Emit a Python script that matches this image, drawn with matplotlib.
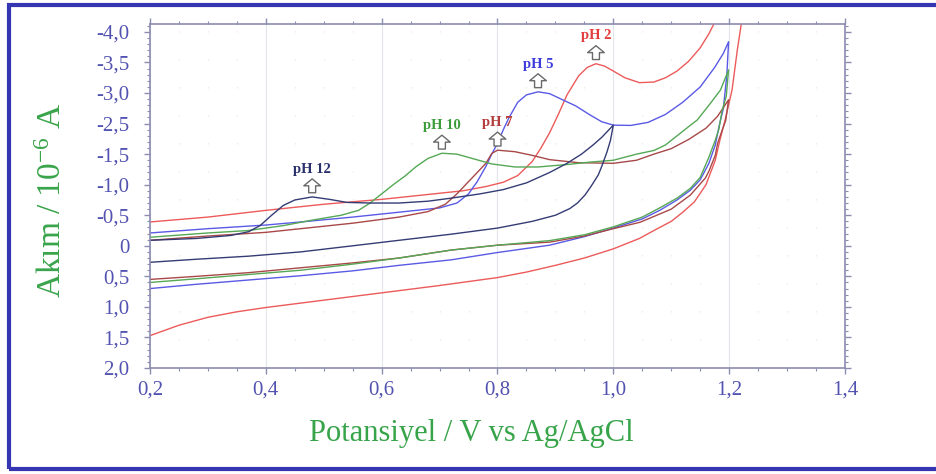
import numpy as np
import matplotlib.pyplot as plt
from matplotlib.patches import Rectangle
from matplotlib.ticker import FixedLocator, MultipleLocator
from matplotlib.transforms import offset_copy

plt.rcParams['mathtext.fontset'] = 'custom'
plt.rcParams['mathtext.rm'] = 'Liberation Serif'
plt.rcParams['mathtext.it'] = 'Liberation Serif:italic'

# current axis: labels are spaced evenly, values are not (-2,0 is skipped)
Y_TICKS = [-4.0, -3.5, -3.0, -2.5, -1.5, -1.0, -0.5, 0.0, 0.5, 1.0, 1.5, 2.0]
Y_TICK_LABELS = ['-4,0', '-3,5', '-3,0', '-2,5', '-1,5', '-1,0', '-0,5', '0',
                 '0,5', '1,0', '1,5', '2,0']
X_TICKS = [0.2, 0.4, 0.6, 0.8, 1.0, 1.2, 1.4]
X_TICK_LABELS = ['0,2', '0,4', '0,6', '0,8', '1,0', '1,2', '1,4']

# cyclic voltammograms, E in V, I in 10^-6 A (forward scan then reverse scan)
e_ph2 = [0.20, 0.30, 0.40, 0.50, 0.60, 0.68, 0.74, 0.78, 0.81, 0.835, 0.86, 0.875,
         0.89, 0.905, 0.92, 0.94, 0.955, 0.97, 0.985, 1.00, 1.02, 1.045, 1.07, 1.09,
         1.11, 1.13, 1.15, 1.165, 1.18, 1.20,
         1.222, 1.214, 1.205, 1.193, 1.184, 1.176, 1.16, 1.14, 1.12, 1.10, 1.07,
         1.045, 1.00, 0.95, 0.90, 0.85, 0.80, 0.70, 0.60, 0.50, 0.40, 0.35, 0.30,
         0.25, 0.20]
i_ph2 = [-0.39, -0.47, -0.58, -0.68, -0.76, -0.84, -0.90, -0.97, -1.04, -1.15, -1.38,
         -1.70, -2.20, -2.65, -2.97, -3.28, -3.42, -3.48, -3.44, -3.36, -3.25, -3.17,
         -3.18, -3.25, -3.36, -3.52, -3.74, -3.97, -4.25, -4.90,
         -4.20, -3.70, -3.05, -2.56, -1.96, -1.40, -1.00, -0.72, -0.55, -0.40, -0.25,
         -0.12, 0.05, 0.20, 0.32, 0.43, 0.52, 0.65, 0.77, 0.89, 1.01, 1.08, 1.17,
         1.30, 1.47]

e_ph5 = [0.20, 0.30, 0.40, 0.46, 0.55, 0.63, 0.70, 0.73, 0.75, 0.765, 0.78, 0.79,
         0.80, 0.81, 0.82, 0.835, 0.85, 0.87, 0.89, 0.91, 0.935, 0.96, 0.98, 1.00,
         1.03, 1.06, 1.09, 1.12, 1.15, 1.175, 1.19, 1.199,
         1.196, 1.19, 1.183, 1.176, 1.165, 1.15, 1.133, 1.11, 1.08, 1.05, 1.00, 0.95,
         0.89, 0.80, 0.72, 0.63, 0.55, 0.46, 0.37, 0.28, 0.20]
i_ph5 = [-0.21, -0.28, -0.34, -0.39, -0.47, -0.55, -0.62, -0.70, -0.85, -1.05, -1.30,
         -1.50, -1.85, -2.30, -2.60, -2.85, -2.97, -3.02, -2.99, -2.90, -2.79, -2.64,
         -2.53, -2.45, -2.44, -2.52, -2.65, -2.85, -3.10, -3.42, -3.65, -3.84,
         -3.30, -2.75, -2.45, -1.80, -1.35, -1.08, -0.91, -0.75, -0.58, -0.44, -0.29,
         -0.15, -0.01, 0.11, 0.23, 0.32, 0.41, 0.49, 0.56, 0.63, 0.70]

e_ph7 = [0.20, 0.30, 0.40, 0.46, 0.55, 0.63, 0.68, 0.71, 0.73, 0.75, 0.765, 0.78,
         0.79, 0.80, 0.83, 0.86, 0.89, 0.94, 1.00, 1.04, 1.07, 1.10, 1.13, 1.16, 1.18,
         1.199,
         1.194, 1.188, 1.18, 1.176, 1.165, 1.159, 1.133, 1.10, 1.07, 1.046, 1.00,
         0.95, 0.89, 0.80, 0.72, 0.63, 0.55, 0.46, 0.37, 0.28, 0.20]
i_ph7 = [-0.09, -0.16, -0.22, -0.28, -0.37, -0.47, -0.56, -0.68, -0.85, -1.05, -1.20,
         -1.35, -1.52, -1.63, -1.58, -1.48, -1.41, -1.36, -1.35, -1.40, -1.50, -1.68,
         -1.98, -2.35, -2.62, -2.89,
         -2.55, -2.29, -1.85, -1.48, -1.22, -1.11, -0.83, -0.60, -0.48, -0.385, -0.28,
         -0.16, -0.06, -0.01, 0.07, 0.20, 0.28, 0.36, 0.44, 0.50, 0.55]

e_ph10 = [0.20, 0.30, 0.37, 0.43, 0.48, 0.53, 0.56, 0.58, 0.60, 0.62, 0.64, 0.66,
          0.68, 0.704, 0.73, 0.76, 0.79, 0.83, 0.87, 0.92, 0.96, 1.00, 1.04, 1.07,
          1.09, 1.11, 1.13, 1.145, 1.165, 1.185, 1.199,
          1.195, 1.188, 1.182, 1.176, 1.165, 1.15, 1.133, 1.11, 1.08, 1.05, 1.00,
          0.95, 0.89, 0.80, 0.72, 0.63, 0.55, 0.46, 0.37, 0.28, 0.20]
i_ph10 = [-0.14, -0.21, -0.25, -0.33, -0.42, -0.50, -0.58, -0.70, -0.85, -1.00, -1.14,
          -1.30, -1.43, -1.53, -1.50, -1.42, -1.34, -1.29, -1.29, -1.33, -1.37, -1.40,
          -1.50, -1.62, -1.80, -2.10, -2.40, -2.56, -2.80, -3.05, -3.38,
          -2.95, -2.72, -2.30, -1.96, -1.45, -1.12, -0.94, -0.78, -0.62, -0.47, -0.31,
          -0.18, -0.085, -0.01, 0.07, 0.20, 0.30, 0.40, 0.47, 0.54, 0.60]

e_ph12 = [0.20, 0.28, 0.34, 0.37, 0.39, 0.41, 0.43, 0.45, 0.48, 0.51, 0.54, 0.58,
          0.63, 0.68, 0.72, 0.77, 0.81, 0.85, 0.89, 0.92, 0.945, 0.965, 0.98, 0.99,
          1.00,
          0.995, 0.989, 0.98, 0.974, 0.962, 0.951, 0.938, 0.925, 0.90, 0.86, 0.80,
          0.72, 0.63, 0.55, 0.46, 0.37, 0.28, 0.20]
i_ph12 = [-0.09, -0.12, -0.17, -0.23, -0.33, -0.50, -0.66, -0.75, -0.80, -0.76, -0.71,
          -0.70, -0.70, -0.73, -0.78, -0.85, -0.92, -1.03, -1.20, -1.35, -1.50, -1.80,
          -2.05, -2.25, -2.45,
          -1.95, -1.57, -1.30, -1.16, -0.98, -0.83, -0.70, -0.61, -0.50, -0.40, -0.29,
          -0.19, -0.09, 0.00, 0.10, 0.17, 0.22, 0.27]

ph_names = ['pH 2', 'pH 5', 'pH 7', 'pH 10', 'pH 12']
peak_e = [0.97, 0.87, 0.80, 0.704, 0.48]
peak_i = [-3.48, -3.02, -1.63, -1.53, -0.80]
line_colors = ['#ec5a5a', '#5a5ae6', '#a84848', '#55a855', '#343c74']
name_colors = ['#e43c3c', '#3c3cdc', '#b43c3c', '#3c9c3c', '#2a306c']

curves = [(e_ph2, i_ph2), (e_ph5, i_ph5), (e_ph7, i_ph7), (e_ph10, i_ph10),
          (e_ph12, i_ph12)]

_idx = np.arange(len(Y_TICKS), dtype=float)
_step = 0.5


def _to_idx(v):
    v = np.asarray(v, dtype=float)
    out = np.interp(v, Y_TICKS, _idx)
    out = np.where(v < Y_TICKS[0], (v - Y_TICKS[0]) / _step, out)
    out = np.where(v > Y_TICKS[-1], _idx[-1] + (v - Y_TICKS[-1]) / _step, out)
    return out


def _from_idx(k):
    k = np.asarray(k, dtype=float)
    out = np.interp(k, _idx, Y_TICKS)
    out = np.where(k < 0, Y_TICKS[0] + k * _step, out)
    out = np.where(k > _idx[-1], Y_TICKS[-1] + (k - _idx[-1]) * _step, out)
    return out


fig = plt.figure(figsize=(9.37, 4.74), dpi=100)
ax = fig.add_axes([150 / 937, 106 / 474, 695 / 937, 344 / 474])
ax.set_yscale('function', functions=(_to_idx, _from_idx))

for (e, i), c in zip(curves, line_colors):
    ax.plot(e, i, color=c, lw=1.0)

ax.set_xlim(0.2, 1.4)
ax.set_ylim(2.0, -4.13)

# hollow up-arrows sitting just above each oxidation peak, name above that
arrow_tail = offset_copy(ax.transData, fig=fig, x=0, y=3, units='points')
arrow_tip = offset_copy(ax.transData, fig=fig, x=0, y=13, units='points')
for name, pe, pi, c in zip(ph_names, peak_e, peak_i, name_colors):
    ax.annotate('', xy=(pe, pi), xycoords=arrow_tip,
                xytext=(pe, pi), textcoords=arrow_tail,
                arrowprops=dict(arrowstyle='simple,head_length=0.5,head_width=1.2,'
                                           'tail_width=0.5',
                                mutation_scale=10, fc='white', ec='#6a6a6a',
                                lw=1.0, shrinkA=0, shrinkB=0))
    ax.annotate(name, (pe, pi), xytext=(0, 20), textcoords='offset points',
                ha='center', va='center', fontsize=10.5, fontweight='bold', color=c,
                family='Liberation Serif')

ax.set_xticks(X_TICKS, labels=X_TICK_LABELS)
ax.set_yticks(Y_TICKS, labels=Y_TICK_LABELS)
ax.xaxis.set_minor_locator(MultipleLocator(0.05))
ax.yaxis.set_minor_locator(FixedLocator(_from_idx(np.arange(-0.2, 11.01, 0.2))))

tick_blue = '#5252b0'
spine_col = '#8c8cb0'
for s in ax.spines.values():
    s.set_color(spine_col)
    s.set_linewidth(1.2)
ax.tick_params(which='both', direction='out', color=spine_col, top=True, right=True)
ax.tick_params(which='major', length=4, width=1.0)
ax.tick_params(which='minor', length=2.5, width=0.8)
ax.tick_params(axis='y', which='major', pad=11, labelsize=15, labelcolor=tick_blue)
ax.tick_params(axis='x', which='major', pad=5, labelsize=15, labelcolor=tick_blue)
for t in ax.get_xticklabels() + ax.get_yticklabels():
    t.set_family('Liberation Serif')

ax.grid(which='major', axis='x', color='#e4e4ec', lw=0.8)
ax.grid(which='minor', axis='x', color='#e6e6ee', lw=0.8, ls=(0, (1.2, 24)))

ax.set_xlabel('Potansiyel / V vs Ag/AgCl', family='Liberation Serif', fontsize=22,
              color='#38a44a')
ax.xaxis.set_label_coords(0.463, -0.189)
ax.xaxis.label.set_va('center')
ax.set_ylabel('Akım / 10$^{\\mathrm{-6}}$ A', family='Liberation Serif', fontsize=24,
              color='#38a44a')
ax.yaxis.set_label_coords(-0.14, 0.488)
ax.yaxis.label.set_va('center')

fig.patches.append(Rectangle((9.5 / 937, 5 / 474), 1.05, 464 / 474,
                             transform=fig.transFigure, fill=False,
                             ec='#3636b2', lw=3))

fig.savefig('out.png', dpi=100)
